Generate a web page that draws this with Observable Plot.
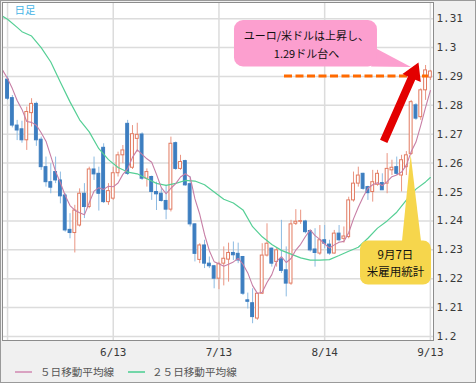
<!DOCTYPE html>
<html><head><meta charset="utf-8">
<script src="https://cdn.jsdelivr.net/npm/d3@7"></script>
<script src="https://cdn.jsdelivr.net/npm/@observablehq/plot@0.6"></script>
<style>
html,body{margin:0;padding:0;background:#f0f0f0;}
#wrap{position:relative;width:476px;height:383px;box-sizing:border-box;border:1px solid #9a9a9a;background:#f0f0f0;overflow:hidden;}
#chart{position:absolute;left:0;top:0;}
#chart svg{display:block;}
.leg{position:absolute;top:362px;height:18px;line-height:18px;font-family:"Noto Sans CJK JP",sans-serif;font-size:10.6px;color:#555;white-space:nowrap;}
.leg i{position:absolute;left:0;top:8px;width:17px;height:2px;}
</style></head>
<body>
<div id="wrap">
  <div id="chart"></div>
  <div class="leg" id="leg1" style="left:14px"><i style="background:#d9a2c1"></i><span style="margin-left:25px"></span></div>
  <div class="leg" id="leg2" style="left:127px"><i style="background:#72d6a8"></i><span style="margin-left:24px"></span></div>
</div>
<script>
// ---- data (EUR/USD daily candles, index 0..88; 22 = 6/13, 88 = 9/13) ----
const opens = [1.2889,1.2825,1.2730,1.2717,1.2679,1.2773,1.2805,1.2681,1.2586,1.2534,
  1.2569,1.2540,1.2488,1.2369,1.2358,1.2384,1.2494,1.2448,1.2578,1.2563,
  1.2653,1.2465,1.2477,1.2565,1.2627,1.2736,1.2584,1.2684,1.2699,1.2546,
  1.2552,1.2500,1.2494,1.2469,1.2439,1.2669,1.2580,1.2607,1.2527,1.2388,
  1.2265,1.2315,1.2252,1.2243,1.2200,1.2252,1.2266,1.2289,1.2286,1.2275,
  1.2125,1.2115,1.2062,1.2148,1.2280,1.2304,1.2258,1.2267,1.2229,1.2183,
  1.2390,1.2397,1.2398,1.2365,1.2301,1.2287,1.2333,1.2318,1.2287,1.2356,
  1.2338,1.2344,1.2471,1.2529,1.2563,1.2517,1.2500,1.2525,1.2531,1.2529,
  1.2575,1.2586,1.2557,1.2586,1.2632,1.2800,1.2759,1.2852,1.2896];
const highs = [1.2900,1.2834,1.2748,1.2745,1.2794,1.2823,1.2811,1.2690,1.2621,1.2598,
  1.2621,1.2569,1.2494,1.2425,1.2454,1.2511,1.2529,1.2586,1.2621,1.2586,
  1.2667,1.2529,1.2586,1.2638,1.2661,1.2748,1.2730,1.2738,1.2705,1.2580,
  1.2555,1.2534,1.2511,1.2523,1.2690,1.2673,1.2627,1.2610,1.2552,1.2390,
  1.2321,1.2333,1.2275,1.2246,1.2257,1.2310,1.2323,1.2327,1.2323,1.2277,
  1.2150,1.2165,1.2148,1.2321,1.2390,1.2306,1.2304,1.2402,1.2310,1.2402,
  1.2439,1.2437,1.2402,1.2367,1.2373,1.2384,1.2384,1.2333,1.2367,1.2384,
  1.2379,1.2482,1.2569,1.2586,1.2565,1.2520,1.2575,1.2575,1.2563,1.2633,
  1.2610,1.2621,1.2627,1.2640,1.2817,1.2806,1.2857,1.2938,1.2921];
const lows = [1.2817,1.2722,1.2678,1.2669,1.2644,1.2725,1.2658,1.2575,1.2517,1.2494,
  1.2529,1.2459,1.2361,1.2338,1.2289,1.2379,1.2408,1.2442,1.2540,1.2434,
  1.2460,1.2454,1.2471,1.2552,1.2598,1.2557,1.2578,1.2638,1.2540,1.2517,
  1.2471,1.2436,1.2465,1.2404,1.2431,1.2575,1.2575,1.2520,1.2379,1.2258,
  1.2252,1.2235,1.2235,1.2165,1.2162,1.2175,1.2188,1.2263,1.2252,1.2142,
  1.2095,1.2044,1.2056,1.2145,1.2275,1.2240,1.2240,1.2218,1.2137,1.2177,
  1.2384,1.2388,1.2355,1.2292,1.2240,1.2281,1.2304,1.2281,1.2285,1.2327,
  1.2323,1.2338,1.2465,1.2517,1.2506,1.2471,1.2465,1.2520,1.2506,1.2494,
  1.2557,1.2557,1.2500,1.2557,1.2627,1.2748,1.2748,1.2817,1.2886];
const closes = [1.2823,1.2730,1.2713,1.2679,1.2777,1.2805,1.2679,1.2586,1.2534,1.2515,
  1.2540,1.2485,1.2367,1.2358,1.2436,1.2494,1.2448,1.2578,1.2561,1.2494,
  1.2465,1.2503,1.2565,1.2627,1.2644,1.2563,1.2700,1.2698,1.2546,1.2569,
  1.2500,1.2492,1.2469,1.2439,1.2667,1.2580,1.2604,1.2523,1.2388,1.2286,
  1.2315,1.2252,1.2243,1.2200,1.2250,1.2269,1.2289,1.2281,1.2263,1.2148,
  1.2120,1.2067,1.2148,1.2280,1.2321,1.2252,1.2298,1.2227,1.2183,1.2388,
  1.2397,1.2399,1.2361,1.2298,1.2289,1.2333,1.2321,1.2287,1.2356,1.2333,
  1.2346,1.2471,1.2529,1.2557,1.2511,1.2496,1.2534,1.2563,1.2506,1.2580,
  1.2584,1.2563,1.2610,1.2627,1.2811,1.2754,1.2852,1.2921,1.2917];
// 5-day moving average, days -1..88
const ma5 = [1.2921,1.2893,1.2858,1.2817,1.2786,1.2744,1.2741,1.2731,1.2705,1.2676,1.2624,
  1.2571,1.2532,1.2488,1.2453,1.2437,1.2428,1.2421,1.2463,1.2503,1.2515,
  1.2509,1.2520,1.2518,1.2531,1.2561,1.2580,1.2620,1.2646,1.2630,1.2615,
  1.2603,1.2561,1.2515,1.2494,1.2513,1.2529,1.2552,1.2563,1.2552,1.2476,
  1.2423,1.2353,1.2297,1.2259,1.2252,1.2243,1.2250,1.2258,1.2270,1.2250,
  1.2220,1.2176,1.2149,1.2153,1.2187,1.2214,1.2260,1.2276,1.2256,1.2270,
  1.2299,1.2319,1.2346,1.2369,1.2349,1.2336,1.2320,1.2306,1.2317,1.2326,
  1.2329,1.2359,1.2407,1.2447,1.2483,1.2513,1.2525,1.2532,1.2522,1.2536,
  1.2553,1.2559,1.2569,1.2593,1.2639,1.2673,1.2731,1.2793,1.2851];
// 25-day moving average, read at these days
const ma25Days = [-1,0,2,3,5,7,9,11,13,15,17,19,21,23,25,27,29,31,33,35,37,39,41,43,45,47,49,
  51,53,55,57,59,61,63,65,67,69,71,73,75,77,79,81,83,85,87,88];
const ma25 = [1.3108,1.3098,1.3070,1.3055,1.3040,1.3000,1.2950,1.2880,1.2812,1.2750,1.2708,
  1.2650,1.2612,1.2585,1.2569,1.2563,1.2546,1.2530,1.2523,1.2530,1.2540,1.2538,1.2525,1.2500,
  1.2475,1.2462,1.2438,1.2380,1.2345,1.2318,1.2298,1.2285,1.2272,1.2264,1.2264,1.2266,1.2280,
  1.2295,1.2309,1.2340,1.2375,1.2400,1.2430,1.2472,1.2510,1.2535,1.2550];
const xGridDays = [0, 22, 44, 66, 88];
const xTickDays = [22, 44, 66, 88];
const xTickLabels = ["6/13", "7/13", "8/14", "9/13"];
const yTicks = [1.2,1.21,1.22,1.23,1.24,1.25,1.26,1.27,1.28,1.29,1.3,1.31];
const seriesLabels = ["５日移動平均線", "２５日移動平均線"];
const frameLabel = "日足";
const noteRise = ["ユーロ/米ドルは上昇し、", "1.29ドル台へ"];
const noteNfp = ["9月7日", "米雇用統計"];
const nfpDay = 84;
const riseLevel = 1.29;

// ---- annotation geometry in data units (day index, price) ----
const geo = {
  dash: [57.64, 87.6],
  pinkBox: [47.23, 76.99, 1.30937, 1.29327],
  pinkTail: [[76.99, 1.29933], [75.75, 1.29327], [84.07, 1.2931]],
  yellowBox: [73.46, 88.23, 1.23304, 1.21781],
  yellowBase: [[82.2, 1.23287], [86.15, 1.23287]],
  arrow: [[78.39, 1.26738], [85.63, 1.29466]]
};

const candles = opens.map((o, i) => ({i, open: o, high: highs[i], low: lows[i], close: closes[i], up: closes[i] >= o}));
const ma5Pts = ma5.map((v, k) => ({i: k - 1, v}));
const ma25Pts = ma25.map((v, k) => ({i: ma25Days[k], v}));

function twoLines(g, cx, y0, gap, size, lines) {
  lines.forEach((s, k) => {
    g.append("text").attr("x", cx).attr("y", y0 + k * gap).attr("text-anchor", "middle")
      .attr("dominant-baseline", "central").attr("font-size", size).attr("fill", "#111").text(s);
  });
}

function annotate(index, {x, y}) {
  const g = d3.create("svg:g").attr("font-family", "'Noto Sans CJK JP', sans-serif");
  const P = ([a, b]) => [x(a), y(b)];
  // dashed 1.29 level
  g.append("line")
    .attr("x1", x(geo.dash[0])).attr("x2", x(geo.dash[1]))
    .attr("y1", y(riseLevel)).attr("y2", y(riseLevel))
    .attr("stroke", "#ff6a00").attr("stroke-width", 3).attr("stroke-dasharray", "8 3.5");
  // pink bubble
  const pinkFill = "#fc9fcf";
  g.append("path").attr("d", d3.line()(geo.pinkTail.map(P)) + "Z").attr("fill", pinkFill);
  let [a1, a2, b1, b2] = geo.pinkBox;
  let X1 = x(a1), X2 = x(a2), Y1 = y(b1), Y2 = y(b2);
  g.append("rect").attr("x", X1).attr("y", Y1).attr("width", X2 - X1).attr("height", Y2 - Y1)
    .attr("rx", 9).attr("fill", pinkFill);
  twoLines(g, (X1 + X2) / 2 + 1, Y1 + 15.5, 17.5, 11, noteRise);
  // yellow bubble pointing to the NFP candle low
  const yellowFill = "#f6d64c";
  const tip = [nfpDay, lows[nfpDay]];
  g.append("path").attr("d", d3.line()([P(geo.yellowBase[0]), P(tip), P(geo.yellowBase[1])]) + "Z").attr("fill", yellowFill);
  [a1, a2, b1, b2] = geo.yellowBox;
  X1 = x(a1); X2 = x(a2); Y1 = y(b1); Y2 = y(b2);
  g.append("rect").attr("x", X1).attr("y", Y1).attr("width", X2 - X1).attr("height", Y2 - Y1)
    .attr("rx", 8).attr("fill", yellowFill);
  twoLines(g, (X1 + X2) / 2, Y1 + 13.5, 17, 11.5, noteNfp);
  // red arrow
  const [T, H] = geo.arrow.map(P);
  const dx = H[0] - T[0], dy = H[1] - T[1], L = Math.hypot(dx, dy);
  const u = [dx / L, dy / L], n = [-u[1], u[0]];
  const headLen = 17, sh = 4, hh = 10;
  const B = [H[0] - u[0] * headLen, H[1] - u[1] * headLen];
  const pt = (p, k) => [p[0] + n[0] * k, p[1] + n[1] * k];
  const poly = [pt(T, sh), pt(B, sh), pt(B, hh), H, pt(B, -hh), pt(B, -sh), pt(T, -sh)];
  g.append("path").attr("d", d3.line()(poly) + "Z").attr("fill", "#e30000");
  return g.node();
}

const chart = Plot.plot({
  width: 474, height: 359,
  marginLeft: 1, marginRight: 42, marginTop: 1, marginBottom: 20,
  style: {background: "transparent", fontFamily: "'DejaVu Sans Mono', monospace", fontSize: "11px", color: "#3a3a3a", overflow: "visible"},
  x: {domain: [-1.05, 88.65], ticks: xTickDays, tickFormat: d => xTickLabels[xTickDays.indexOf(d)], tickSize: 0, tickPadding: 8, label: null},
  y: {domain: [1.1986, 1.3156], axis: "right", ticks: yTicks, tickFormat: d => String(+d.toFixed(2)), tickSize: 0, tickPadding: 3, label: null},
  marks: [
    Plot.frame({fill: "#ffffff", stroke: "none"}),
    Plot.ruleY(yTicks, {stroke: "#dcdcdc", strokeWidth: 1.5}),
    Plot.ruleX(xGridDays, {stroke: "#dcdcdc", strokeWidth: 1.5}),
    Plot.ruleX(candles, {x: "i", y1: "low", y2: "high", stroke: d => d.up ? "#ea9582" : "#8dbbe2", strokeWidth: 1}),
    Plot.rect(candles, {x1: d => d.i - 0.3, x2: d => d.i + 0.3, y1: "open", y2: "close",
      fill: d => d.up ? "#ffffff" : "#3d7ec0", stroke: d => d.up ? "#e27a60" : "#3d7ec0", strokeWidth: 1}),
    Plot.line(ma25Pts, {x: "i", y: "v", stroke: "#55cf95", strokeWidth: 1.2}),
    Plot.line(ma5Pts, {x: "i", y: "v", stroke: "#c77ea5", strokeWidth: 1.1}),
    Plot.text([frameLabel], {text: d => d, frameAnchor: "top-left", dx: 12, dy: 8.5, textAnchor: "start", lineAnchor: "middle",
      fill: "#46b4e6", fontFamily: "'Noto Sans CJK JP', sans-serif", fontSize: 10.5}),
    annotate,
    Plot.frame({stroke: "#8c8c8c", fill: "none"})
  ]
});
document.getElementById("chart").appendChild(chart);
document.querySelector("#leg1 span").textContent = seriesLabels[0];
document.querySelector("#leg2 span").textContent = seriesLabels[1];
</script>
</body></html>
